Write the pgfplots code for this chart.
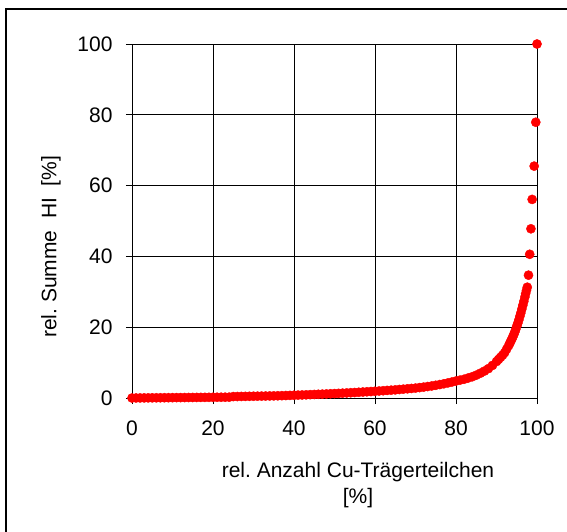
\documentclass[border=0pt]{standalone}
\usepackage{fontspec}
\setmainfont{Liberation Sans}
\usepackage{pgfplots}
\pgfplotsset{compat=1.18}
\usepackage{pgfplotstable}
\frenchspacing
\pgfplotstableread{
x y
0 0.00
1 0.01
2 0.02
3 0.03
4 0.04
5 0.05
6 0.06
7 0.07
8 0.08
9 0.09
10 0.10
11 0.11
12 0.12
13 0.13
14 0.14
15 0.15
16 0.16
17 0.17
18 0.18
19 0.19
20 0.20
21 0.21
22 0.22
23 0.23
24 0.24
25 0.40
26 0.42
27 0.44
28 0.46
29 0.48
30 0.50
31 0.52
32 0.54
33 0.56
34 0.58
35 0.60
36 0.63
37 0.66
38 0.70
39 0.74
40 0.78
41 0.82
42 0.86
43 0.90
44 0.95
45 1.00
46 1.05
47 1.10
48 1.15
49 1.20
50 1.25
51 1.31
52 1.37
53 1.43
54 1.49
55 1.55
56 1.62
57 1.69
58 1.76
59 1.83
60 1.90
61 1.98
62 2.06
63 2.14
64 2.22
65 2.30
66 2.40
67 2.50
68 2.60
69 2.70
70 2.80
71 2.94
72 3.08
73 3.24
74 3.40
75 3.60
76 3.80
77 4.02
78 4.26
79 4.52
80 4.80
81 5.05
82 5.30
83 5.65
84 6.00
85 6.45
86 7.00
87 7.60
88 8.30
89 9.20
90 10.3
90.5 10.9
91 11.5
91.5 12.1
92 12.8
92.5 13.8
93 14.8
93.25 15.4
93.5 16.0
93.75 16.6
94 17.2
94.25 17.9
94.5 18.6
94.75 19.4
95 20.3
95.25 21.1
95.5 22.0
95.75 23.0
96 24.0
96.25 25.1
96.5 26.2
96.75 27.3
97 28.5
97.2 29.5
97.4 30.4
97.6 31.3
97.9 34.7
98.2 40.6
98.5 47.8
98.8 56.1
99.3 65.5
99.7 77.9
100 100
}\curvedata
\begin{document}
\begin{tikzpicture}
\useasboundingbox (-132pt,-133pt) rectangle (435pt,398pt);
\draw[line width=2pt] (-126pt,-140pt) -- (-126pt,389pt) -- (445pt,389pt);
\begin{axis}[
  at={(0pt,0pt)}, anchor=south west,
  scale only axis,
  width=405pt, height=354pt,
  xmin=0, xmax=100, ymin=0, ymax=100,
  xtick={0,20,...,100}, ytick={0,20,...,100},
  tick align=outside, xtick pos=left, ytick pos=left,
  major tick length=6pt,
  grid=major,
  major grid style={black, line width=0.8pt},
  axis line style={black, line width=0.8pt},
  tick style={black, line width=0.8pt},
  /pgf/number format/assume math mode=true,
  tick label style={font=\fontsize{21}{25}\selectfont},
  xticklabel style={yshift=-13pt},
  yticklabel style={xshift=-10pt},
  label style={font=\fontsize{21}{25.5}\selectfont},
  xlabel={rel. Anzahl Cu-Trägerteilchen\\{}[\%]},
  xlabel style={align=center, at={(axis description cs:0.558,-0.246)}, anchor=center},
  ylabel={rel. Summe\ \ HI\ \ [\%]},
  ylabel style={at={(axis description cs:-0.2,0.427)}, anchor=center, rotate=0},
  clip=false,
]
\addplot[only marks, mark=*, mark size=4.6pt, color=red, mark options={fill=red, draw=red}] table[x=x,y=y] {\curvedata};
\end{axis}
\end{tikzpicture}
\end{document}
